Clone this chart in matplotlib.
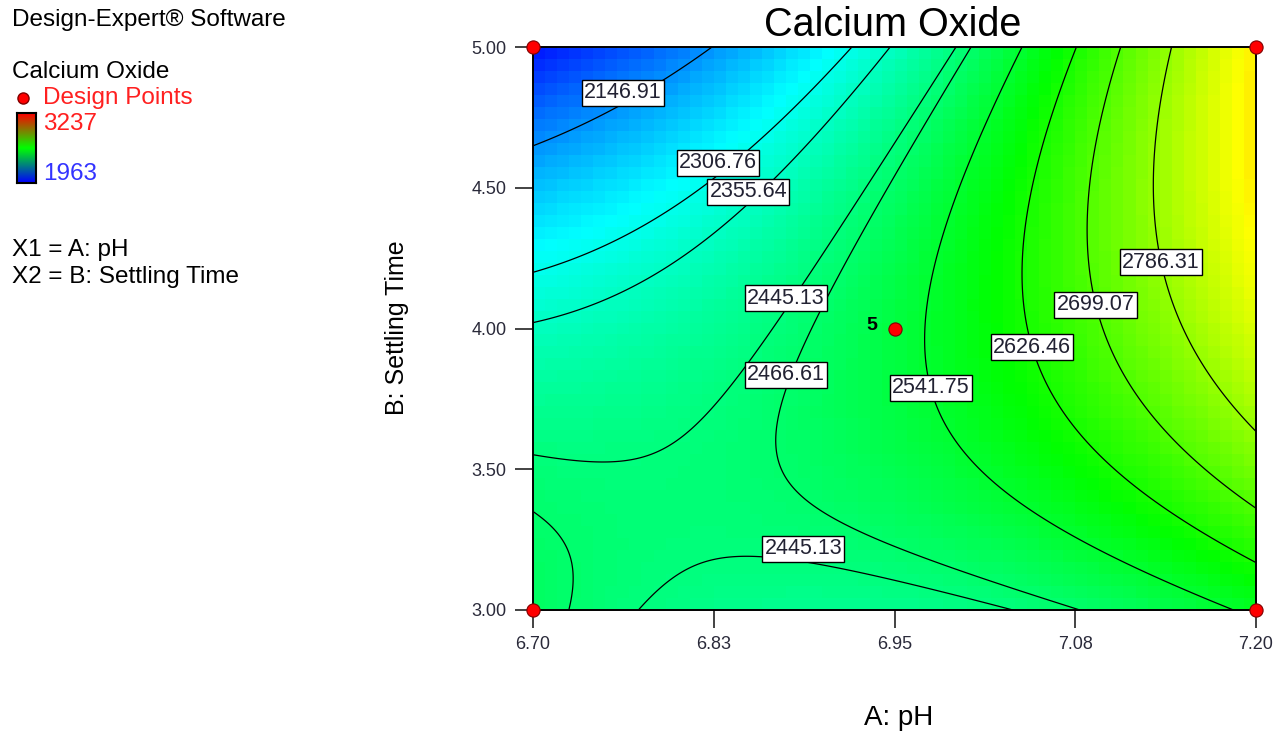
import numpy as np
import matplotlib
matplotlib.use('Agg')
import matplotlib.pyplot as plt
from matplotlib.colors import LinearSegmentedColormap, Normalize

plt.rcParams['font.family'] = ['Liberation Sans', 'DejaVu Sans']

# factor ranges (actual units)
a_low, a_high = 6.70, 7.20      # A: pH
b_low, b_high = 3.00, 5.00      # B: Settling Time

# coded equation for Calcium Oxide, terms A^i * B^j
term_names = ['Intercept', 'A', 'B', 'AB', 'A^2', 'B^2', 'A^2B', 'AB^2', 'A^3', 'B^3']
pow_a = [0, 1, 0, 1, 2, 0, 2, 1, 3, 0]
pow_b = [0, 0, 1, 1, 0, 2, 1, 2, 0, 3]
coef = [2519.717, 253.920, -28.307, 220.115, 97.905, -127.317, 3.335, 1.139, 2.885, -2.739]

# response range used for the colour scale
resp_low, resp_high = 1963, 3237

# contour levels and where their labels sit (A, B)
levels = [2146.91, 2306.76, 2355.64, 2445.13, 2466.61, 2541.75, 2626.46, 2699.07, 2786.31]
label_level = [0, 1, 2, 3, 4, 5, 6, 7, 8, 3]
label_a = [6.762, 6.828, 6.849, 6.875, 6.875, 6.975, 7.045, 7.089, 7.134, 6.887]
label_b = [4.837, 4.588, 4.485, 4.108, 3.835, 3.789, 3.934, 4.084, 4.236, 3.217]

# design points and replicate counts
pt_a = [6.70, 7.20, 6.70, 7.20, 6.95]
pt_b = [3.00, 3.00, 5.00, 5.00, 4.00]
pt_reps = [1, 1, 1, 1, 5]

xtick_vals = np.linspace(a_low, a_high, 5)
xtick_labels = ['6.70', '6.83', '6.95', '7.08', '7.20']
ytick_vals = np.linspace(b_low, b_high, 5)
ytick_labels = ['3.00', '3.50', '4.00', '4.50', '5.00']


def model(a, b):
    # evaluate the coded polynomial at actual factor settings
    xa = (a - (a_low + a_high) / 2) / ((a_high - a_low) / 2)
    xb = (b - (b_low + b_high) / 2) / ((b_high - b_low) / 2)
    z = np.zeros_like(xa)
    for c, i, j in zip(coef, pow_a, pow_b):
        z = z + c * xa**i * xb**j
    return z


W, H = 1282, 733
fig = plt.figure(figsize=(W / 100, H / 100), dpi=100)
ax = fig.add_axes([533 / W, 1 - 610 / H, (1256 - 533) / W, (610 - 47) / H])

cmap = LinearSegmentedColormap.from_list('de', ['#0000ff', '#00ffff', '#00ff00', '#ffff00', '#ff0000'])
norm = Normalize(resp_low, resp_high)

# shaded cells
ae = np.linspace(a_low, a_high, 61)
be = np.linspace(b_low, b_high, 48)
ac, bc = np.meshgrid((ae[:-1] + ae[1:]) / 2, (be[:-1] + be[1:]) / 2)
ax.pcolormesh(ae, be, model(ac, bc), cmap=cmap, norm=norm, shading='flat', zorder=0)

# contour lines
af, bf = np.meshgrid(np.linspace(a_low, a_high, 400), np.linspace(b_low, b_high, 400))
ax.contour(af, bf, model(af, bf), levels=levels, colors='black', linewidths=0.9, zorder=1)

for k, x, y in zip(label_level, label_a, label_b):
    ax.text(x, y, '%.2f' % levels[k], fontsize=15.5, color='#222233', ha='center', va='center', zorder=3,
            bbox=dict(boxstyle='square,pad=0.1', fc='white', ec='black', lw=1.0))

# design points
ax.plot(pt_a, pt_b, 'o', color='#ff0000', mec='#800000', mew=0.8, ms=9.5, clip_on=False, zorder=5)
for x, y, n in zip(pt_a, pt_b, pt_reps):
    if n > 1:
        ax.text(x - 0.012, y + 0.01, str(n), fontsize=14, fontweight='bold', ha='right', va='center', zorder=5)

ax.set_xlim(a_low, a_high)
ax.set_ylim(b_low, b_high)
ax.set_xticks(xtick_vals)
ax.set_xticklabels(xtick_labels)
ax.set_yticks(ytick_vals)
ax.set_yticklabels(ytick_labels)
ax.tick_params(direction='out', length=13, width=1.2, color='#222222', labelsize=13,
               labelcolor='#2a2a3a', pad=6)
for s in ax.spines.values():
    s.set_linewidth(1.4)
    s.set_zorder(4)

fig.text(893 / W, 1 - 25 / H, 'Calcium Oxide', fontsize=28.5, ha='center', va='center')
fig.text(899 / W, 1 - 718 / H, 'A: pH', fontsize=20, ha='center', va='center')
fig.text(397 / W, 1 - 328 / H, 'B: Settling Time', fontsize=18, rotation=90, ha='center', va='center')

# side panel
fig.text(12 / W, 1 - 20 / H, 'Design-Expert\u00ae Software', fontsize=17.5, va='center')
fig.text(12 / W, 1 - 72 / H, 'Calcium Oxide', fontsize=17.5, va='center')
fig.lines.append(plt.Line2D([23 / W], [1 - 98 / H], marker='o', color='#ff0000', mec='#800000',
                            ms=8, transform=fig.transFigure))
fig.text(43 / W, 1 - 98 / H, 'Design Points', fontsize=17.5, color='#ff2020', va='center')
fig.text(43 / W, 1 - 124 / H, str(resp_high), fontsize=17.5, color='#ff2020', va='center')
fig.text(43 / W, 1 - 174 / H, str(resp_low), fontsize=17.5, color='#3333ff', va='center')
fig.text(12 / W, 1 - 250 / H, 'X1 = A: pH', fontsize=17.5, va='center')
fig.text(12 / W, 1 - 277 / H, 'X2 = B: Settling Time', fontsize=17.5, va='center')

cax = fig.add_axes([17 / W, 1 - 183 / H, 19 / W, 70 / H])
grad = np.linspace(0, 1, 100).reshape(-1, 1)
cax.imshow(grad, aspect='auto', origin='lower',
           cmap=LinearSegmentedColormap.from_list('bar', ['#0000ff', '#00ff00', '#ff0000']))
cax.set_xticks([])
cax.set_yticks([])
for s in cax.spines.values():
    s.set_linewidth(1.5)

fig.savefig('out.png', dpi=100)
